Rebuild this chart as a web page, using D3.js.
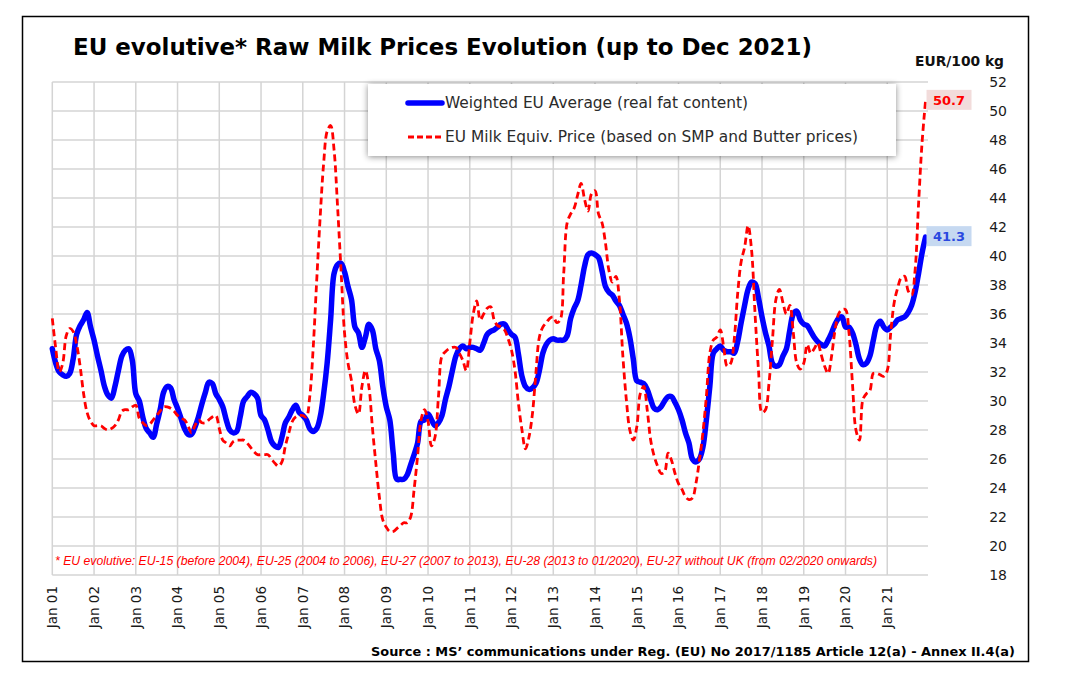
<!DOCTYPE html>
<html>
<head>
<meta charset="utf-8">
<script src="https://cdn.jsdelivr.net/npm/d3@7"></script>
<style>
  body { margin: 0; background: #fff; }
  svg { display: block; }
</style>
</head>
<body>
<svg id="chart" width="1065" height="690"></svg>
<script>
// monthly values, Jan 2001 .. Dec 2021 (EUR/100 kg)
const weightedAvg = [
  33.6, 32.6, 32.0, 31.8, 31.7, 31.9, 32.9, 34.6, 35.2, 35.6, 36.1, 35.1, // 2001
  34.2, 33.1, 32.1, 31.0, 30.4, 30.2, 31.0, 32.1, 33.1, 33.5, 33.6, 32.8, // 2002
  30.5, 30.0, 28.9, 28.1, 27.8, 27.5, 28.4, 29.4, 30.6, 31.0, 30.9, 30.1, // 2003
  29.5, 28.8, 28.1, 27.7, 27.7, 28.2, 28.9, 29.8, 30.6, 31.3, 31.2, 30.5, // 2004
  30.1, 29.6, 28.7, 28.0, 27.8, 27.9, 28.9, 30.0, 30.3, 30.6, 30.5, 30.2, // 2005
  29.0, 28.7, 28.0, 27.2, 26.9, 26.8, 27.5, 28.5, 28.9, 29.4, 29.7, 29.2, // 2006
  29.0, 28.7, 28.1, 27.9, 28.1, 28.9, 30.5, 32.6, 35.6, 38.8, 39.4, 39.5, // 2007
  38.9, 37.9, 37.0, 35.1, 34.7, 33.7, 34.4, 35.3, 34.9, 33.6, 32.8, 31.0, // 2008
  29.6, 28.7, 26.4, 24.6, 24.6, 24.6, 24.9, 25.6, 26.3, 27.1, 28.6, 28.7, // 2009
  29.1, 28.7, 28.3, 28.5, 29.0, 30.1, 31.0, 32.1, 33.1, 33.6, 33.8, 33.6, // 2010
  33.7, 33.7, 33.6, 33.5, 34.0, 34.6, 34.8, 34.9, 35.1, 35.3, 35.3, 34.9, // 2011
  34.6, 34.4, 33.2, 31.7, 31.0, 30.8, 30.9, 31.2, 32.1, 33.3, 33.9, 34.2, // 2012
  34.3, 34.2, 34.2, 34.2, 34.5, 35.7, 36.4, 36.9, 38.0, 39.3, 40.1, 40.2, // 2013
  40.1, 39.9, 39.0, 37.9, 37.5, 37.3, 36.9, 36.6, 36.0, 35.4, 34.4, 32.9, // 2014
  31.4, 31.3, 31.2, 30.8, 30.1, 29.5, 29.4, 29.6, 30.0, 30.3, 30.3, 29.9, // 2015
  29.4, 28.7, 27.8, 27.1, 26.0, 25.8, 26.0, 26.8, 28.7, 31.0, 33.3, 33.6, // 2016
  33.8, 33.5, 33.4, 33.4, 33.3, 34.1, 35.4, 36.6, 37.7, 38.2, 38.1, 37.1, // 2017
  35.8, 34.7, 33.8, 32.6, 32.4, 32.5, 33.1, 33.6, 34.9, 36.0, 36.2, 35.6, // 2018
  35.3, 35.2, 34.8, 34.4, 34.1, 33.9, 33.8, 34.2, 34.7, 35.3, 35.7, 35.8, // 2019
  35.1, 35.1, 34.7, 33.9, 32.9, 32.5, 32.6, 33.1, 34.2, 35.2, 35.5, 35.1, // 2020
  34.9, 35.1, 35.3, 35.6, 35.7, 35.8, 36.1, 36.6, 37.5, 38.8, 40.2, 41.3  // 2021
];

const milkEquiv = [
  35.7, 33.6, 32.0, 32.6, 34.5, 35.0, 34.8, 33.9, 32.4, 30.5, 29.2, 28.6, // 2001
  28.3, 28.3, 28.3, 28.1, 28.0, 28.1, 28.3, 28.7, 29.3, 29.4, 29.4, 29.6, // 2002
  29.7, 28.8, 28.5, 28.3, 28.4, 28.7, 29.0, 29.3, 29.6, 29.6, 29.5, 29.3, // 2003
  29.0, 28.8, 28.7, 28.3, 27.8, 28.3, 28.7, 28.5, 28.5, 28.7, 28.9, 29.0, // 2004
  28.1, 27.3, 27.1, 26.9, 27.2, 27.3, 27.3, 27.3, 27.1, 26.8, 26.5, 26.3, // 2005
  26.3, 26.3, 26.3, 26.0, 25.7, 25.5, 25.8, 26.9, 27.8, 28.6, 28.9, 29.0, // 2006
  29.0, 28.9, 30.3, 33.7, 38.3, 42.7, 46.4, 48.6, 49.0, 47.3, 43.4, 39.0, // 2007
  34.7, 32.6, 31.4, 29.7, 29.1, 31.0, 32.1, 31.0, 28.2, 25.7, 23.4, 21.8, // 2008
  21.3, 21.0, 21.0, 21.2, 21.4, 21.6, 21.6, 22.0, 23.9, 26.2, 28.7, 29.4, // 2009
  28.6, 26.9, 27.5, 30.3, 33.1, 33.4, 33.6, 33.7, 33.7, 33.3, 32.8, 32.1, // 2010
  34.0, 36.0, 36.9, 35.6, 36.0, 36.4, 36.5, 35.6, 35.2, 35.1, 34.9, 34.3, // 2011
  33.5, 32.1, 29.8, 28.0, 26.7, 27.5, 29.1, 31.9, 34.4, 35.1, 35.4, 35.7, // 2012
  35.8, 35.4, 35.6, 38.8, 42.3, 42.9, 43.3, 44.2, 45.0, 43.9, 43.1, 44.3, // 2013
  44.5, 42.9, 42.3, 40.9, 39.0, 38.2, 38.6, 37.0, 33.1, 30.1, 28.0, 27.3, // 2014
  28.2, 30.5, 31.0, 29.4, 27.3, 26.2, 25.5, 25.0, 25.1, 26.4, 25.9, 25.0, // 2015
  24.3, 23.9, 23.4, 23.2, 23.3, 24.3, 25.9, 27.8, 30.3, 33.3, 34.2, 34.4, // 2016
  34.9, 33.7, 32.4, 32.6, 34.2, 37.4, 39.6, 40.6, 42.1, 40.4, 36.0, 32.1, // 2017
  29.2, 29.4, 31.2, 34.2, 37.0, 37.7, 36.8, 36.0, 36.6, 34.7, 32.6, 32.2, // 2018
  32.6, 33.9, 33.3, 33.6, 34.0, 33.2, 32.4, 31.9, 33.1, 34.9, 36.0, 36.3, // 2019
  36.3, 34.7, 31.2, 28.0, 27.3, 30.1, 30.5, 30.7, 31.9, 31.9, 31.8, 31.7, // 2020
  32.1, 34.7, 36.8, 37.8, 38.5, 38.6, 37.6, 37.3, 39.0, 43.6, 47.8, 50.7  // 2021
];

const yTicks = [18, 20, 22, 24, 26, 28, 30, 32, 34, 36, 38, 40, 42, 44, 46, 48, 50, 52];
const xTickLabels = ["Jan 01", "Jan 02", "Jan 03", "Jan 04", "Jan 05", "Jan 06", "Jan 07",
  "Jan 08", "Jan 09", "Jan 10", "Jan 11", "Jan 12", "Jan 13", "Jan 14", "Jan 15", "Jan 16",
  "Jan 17", "Jan 18", "Jan 19", "Jan 20", "Jan 21"];
const seriesNames = ["Weighted EU Average (real fat content)",
  "EU Milk Equiv. Price (based on SMP and Butter prices)"];

const svg = d3.select("#chart");
const font = "'DejaVu Sans', Verdana, sans-serif";

// scales: x is month index from Jan 2001
const x = d3.scaleLinear().domain([0, 252]).range([52.3, 929]);
const y = d3.scaleLinear().domain([18, 52]).range([575, 82]);

// outer frame
svg.append("rect")
  .attr("x", 22.5).attr("y", 16.5)
  .attr("width", 1006).attr("height", 645)
  .attr("fill", "#fff").attr("stroke", "#000").attr("stroke-width", 1.5);

// shadow filter for legend
const defs = svg.append("defs");
const f = defs.append("filter").attr("id", "shadow")
  .attr("x", "-10%").attr("y", "-30%").attr("width", "120%").attr("height", "160%");
f.append("feDropShadow").attr("dx", 0).attr("dy", 1)
  .attr("stdDeviation", 3).attr("flood-color", "#000").attr("flood-opacity", 0.45);

// grid
const grid = svg.append("g").attr("stroke", "#d4d4d4").attr("stroke-width", 1.5);
grid.selectAll(".hgrid").data(yTicks).enter().append("line")
  .attr("x1", x(0)).attr("x2", x(252) - 1)
  .attr("y1", d => y(d)).attr("y2", d => y(d));
grid.selectAll(".vgrid").data(xTickLabels).enter().append("line")
  .attr("x1", (d, i) => x(i * 12)).attr("x2", (d, i) => x(i * 12))
  .attr("y1", y(52)).attr("y2", y(18));

// footnote sits inside the plot area
svg.append("text")
  .attr("x", 55).attr("y", 565)
  .attr("font-family", "'Liberation Sans Narrow', 'Liberation Sans', Arial, sans-serif")
  .attr("font-style", "italic").attr("font-size", 13)
  .attr("fill", "#ff0000")
  .attr("textLength", 822).attr("lengthAdjust", "spacingAndGlyphs")
  .text("* EU evolutive: EU-15 (before 2004), EU-25 (2004 to 2006), EU-27 (2007 to 2013), EU-28 (2013 to 01/2020), EU-27 without UK (from 02/2020 onwards)");

// lines
const line = d3.line()
  .x((d, i) => x(i))
  .y(d => y(d))
  .curve(d3.curveCatmullRom.alpha(0.5));

svg.append("path").datum(weightedAvg)
  .attr("d", line).attr("fill", "none")
  .attr("stroke", "#0000ff").attr("stroke-width", 5.5)
  .attr("stroke-linejoin", "round").attr("stroke-linecap", "round");

svg.append("path").datum(milkEquiv)
  .attr("d", line).attr("fill", "none")
  .attr("stroke", "#ff0000").attr("stroke-width", 2.8)
  .attr("stroke-dasharray", "7,4");

// y tick labels on the right
svg.selectAll(".ylab").data(yTicks).enter().append("text")
  .attr("x", 1007).attr("y", d => y(d))
  .attr("dy", "0.36em").attr("text-anchor", "end")
  .attr("font-family", font).attr("font-size", 14).attr("fill", "#1a1a1a")
  .text(d => d);

svg.append("text")
  .attr("x", 1004).attr("y", 66).attr("text-anchor", "end")
  .attr("font-family", font).attr("font-weight", "bold").attr("font-size", 13.5)
  .attr("fill", "#111")
  .attr("textLength", 89).attr("lengthAdjust", "spacingAndGlyphs")
  .text("EUR/100 kg");

// x tick labels, rotated
svg.selectAll(".xlab").data(xTickLabels).enter().append("text")
  .attr("transform", (d, i) => `translate(${x(i * 12)},586) rotate(-90)`)
  .attr("dy", "0.36em").attr("text-anchor", "end")
  .attr("font-family", font).attr("font-size", 13.5).attr("fill", "#1a1a1a")
  .text(d => d);

// title
svg.append("text")
  .attr("x", 73).attr("y", 55)
  .attr("font-family", font).attr("font-weight", "bold").attr("font-size", 22.5)
  .attr("fill", "#000")
  .attr("textLength", 739).attr("lengthAdjust", "spacingAndGlyphs")
  .text("EU evolutive* Raw Milk Prices Evolution (up to Dec 2021)");

// source
svg.append("text")
  .attr("x", 1015).attr("y", 656).attr("text-anchor", "end")
  .attr("font-family", font).attr("font-weight", "bold").attr("font-size", 12.5)
  .attr("fill", "#000")
  .attr("textLength", 644).attr("lengthAdjust", "spacingAndGlyphs")
  .text("Source : MS\u2019 communications under Reg. (EU) No 2017/1185 Article 12(a) - Annex II.4(a)");

// legend
const legend = svg.append("g");
legend.append("rect")
  .attr("x", 368).attr("y", 84).attr("width", 528).attr("height", 72)
  .attr("fill", "#fff").attr("filter", "url(#shadow)");
const legendRows = [
  { name: seriesNames[0], color: "#0000ff", width: 5.5, dash: null, yy: 103, len: 303 },
  { name: seriesNames[1], color: "#ff0000", width: 2.8, dash: "6,3", yy: 137, len: 413 }
];
legendRows.forEach(r => {
  legend.append("line")
    .attr("x1", 408).attr("x2", 442).attr("y1", r.yy).attr("y2", r.yy)
    .attr("stroke", r.color).attr("stroke-width", r.width)
    .attr("stroke-linecap", r.dash ? "butt" : "round")
    .attr("stroke-dasharray", r.dash);
  legend.append("text")
    .attr("x", 445).attr("y", r.yy).attr("dy", "0.36em")
    .attr("font-family", font).attr("font-size", 15).attr("fill", "#2b2b2b")
    .attr("textLength", r.len).attr("lengthAdjust", "spacingAndGlyphs")
    .text(r.name);
});

// end-value labels
const last = weightedAvg.length - 1;
const endLabels = [
  { v: milkEquiv[last], fill: "#f2dcdb", color: "#ff0000" },
  { v: weightedAvg[last], fill: "#c6d9f1", color: "#2a48e0" }
];
endLabels.forEach(l => {
  const cx = x(last) + 23.5, cy = y(l.v) - 1;
  svg.append("rect")
    .attr("x", cx - 22.5).attr("y", cy - 10).attr("width", 45).attr("height", 20)
    .attr("fill", l.fill);
  svg.append("text")
    .attr("x", cx).attr("y", cy).attr("dy", "0.36em").attr("text-anchor", "middle")
    .attr("font-family", font).attr("font-weight", "bold").attr("font-size", 13)
    .attr("fill", l.color)
    .text(l.v.toFixed(1));
});
</script>
</body>
</html>
